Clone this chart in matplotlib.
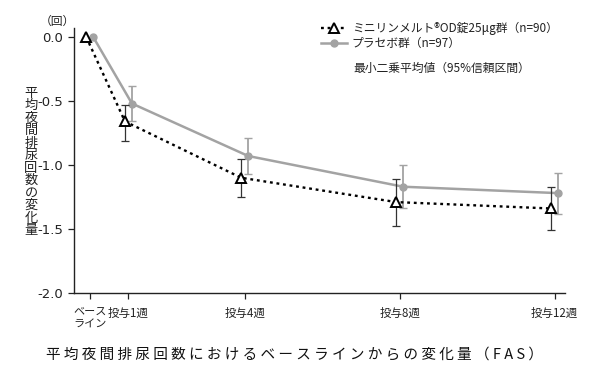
import matplotlib
matplotlib.use("Agg")
import matplotlib.pyplot as plt
import numpy as np

plt.rcParams['font.family'] = ['Noto Sans CJK JP', 'DejaVu Sans']

# Data (least squares mean change, 95% CI)
weeks = [0, 1, 4, 8, 12]
tick_labels = ["ベース\nライン", "投与1週", "投与4週", "投与8週", "投与12週"]

drug_mean = [0.0, -0.66, -1.10, -1.29, -1.34]
drug_lo = [0.0, -0.81, -1.25, -1.48, -1.51]
drug_hi = [0.0, -0.53, -0.95, -1.11, -1.17]

placebo_mean = [0.0, -0.52, -0.93, -1.17, -1.22]
placebo_lo = [0.0, -0.66, -1.07, -1.34, -1.38]
placebo_hi = [0.0, -0.38, -0.79, -1.00, -1.06]

drug_label = "ミニリンメルト®OD錠25μg群（n=90）"
placebo_label = "プラセボ群（n=97）"
ylabel_text = "平均夜間排尿回数の変化量"
title_text = "平均夜間排尿回数におけるベースラインからの変化量（FAS）"

gray = "#a3a3a3"
ink = "#222222"
shift = 0.09  # small horizontal offset between the two groups

fig = plt.figure(figsize=(6, 3.73), dpi=100)
ax = fig.add_axes([0.123, 0.2145, 0.819, 0.7105])

w = np.array(weeks, dtype=float)

# placebo
pm = np.array(placebo_mean)
perr = [pm - np.array(placebo_lo), np.array(placebo_hi) - pm]
ax.errorbar(w[1:] + shift, pm[1:], yerr=[perr[0][1:], perr[1][1:]], fmt="none",
            ecolor=gray, elinewidth=1.3, capsize=3, capthick=1.0, zorder=2)
ax.plot(w + shift, pm, color=gray, lw=1.8, marker="o", ms=5, mfc=gray, mec=gray,
        zorder=3, label=placebo_label)

# drug
dm = np.array(drug_mean)
derr = [dm - np.array(drug_lo), np.array(drug_hi) - dm]
ax.errorbar(w[1:] - shift, dm[1:], yerr=[derr[0][1:], derr[1][1:]], fmt="none",
            ecolor="#333333", elinewidth=0.9, capsize=3, capthick=0.9, zorder=4)
ax.plot(w - shift, dm, color="black", lw=1.7, ls=(0, (1.2, 1.6)), marker="^", ms=7,
        mfc="white", mec="black", mew=1.4, zorder=5, label=drug_label)

ax.set_xlim(-0.41, 12.27)
ax.set_ylim(-2.0, 0.07)
ax.set_yticks([0.0, -0.5, -1.0, -1.5, -2.0])
ax.set_yticklabels(["0.0", "-0.5", "-1.0", "-1.5", "-2.0"], fontsize=9.5, family="DejaVu Sans")
ax.set_xticks(weeks)
ax.set_xticklabels([""] + tick_labels[1:], fontsize=8.3)
# baseline label sits left-aligned under the axis start
ax.annotate(tick_labels[0], xy=(0, 0), xycoords="axes fraction", xytext=(0, -10),
            textcoords="offset points", ha="left", va="top", fontsize=8,
            linespacing=1.35, color=ink)

for s in ["top", "right"]:
    ax.spines[s].set_visible(False)
for s in ["left", "bottom"]:
    ax.spines[s].set_linewidth(1.0)
    ax.spines[s].set_color(ink)
ax.tick_params(axis="both", direction="out", length=4, width=0.9, color=ink,
               labelcolor=ink)
ax.tick_params(axis="x", pad=6)

handles, labels = ax.get_legend_handles_labels()
leg = ax.legend(handles[::-1], labels[::-1], loc="upper left",
                bbox_to_anchor=(0.535, 0.94), bbox_transform=fig.transFigure,
                frameon=False, fontsize=8.5, handlelength=2.2, handletextpad=0.4,
                labelspacing=0.15, borderpad=0, borderaxespad=0)
for t in leg.get_texts():
    t.set_color(ink)

fig.text(353 / 600, 1 - 68 / 373, "最小二乗平均値（95%信頼区間）", fontsize=8.5,
         va="center", ha="left", color=ink)
fig.text(57 / 600, 1 - 21 / 373, "（回）", fontsize=8.5, va="center", ha="center",
         color=ink)
fig.text(31 / 600, 1 - 162 / 373, "\n".join(ylabel_text), fontsize=9.5,
         va="center", ha="center", linespacing=0.95, color=ink)
fig.text(295 / 600, 1 - 355 / 373, " ".join(title_text), fontsize=10.5,
         va="center", ha="center", color="#111111")

fig.savefig("out.png", dpi=100)
